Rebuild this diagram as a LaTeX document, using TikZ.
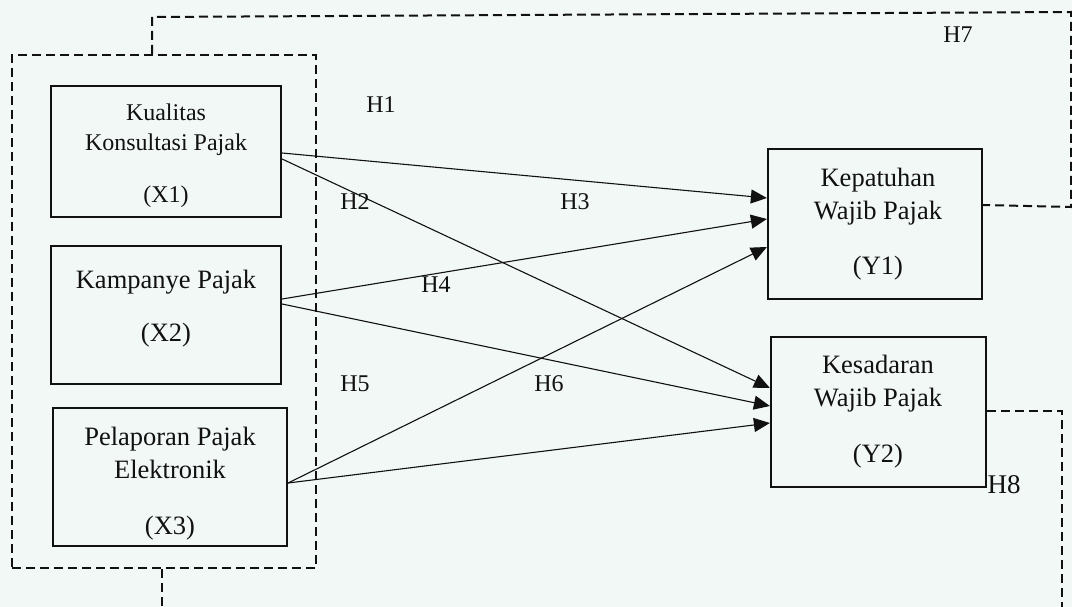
\documentclass[tikz,border=0pt]{standalone}
\usepackage{fontspec}
\setmainfont{Liberation Serif}
\usetikzlibrary{arrows.meta}
\definecolor{bgc}{RGB}{242,248,245}
\definecolor{ink}{RGB}{17,17,17}
\begin{document}
\begin{tikzpicture}[x=1pt,y=-1pt,
  box/.style={draw=ink,line width=2.2pt,minimum width=#1,inner sep=0pt},
  txtA/.style={align=center,text=ink,font=\fontsize{24}{30}\selectfont,inner sep=0pt},
  txtB/.style={align=center,text=ink,font=\fontsize{26.5}{33}\selectfont,inner sep=0pt},
  hlab/.style={text=ink,font=\fontsize{24}{28}\selectfont,inner sep=0pt},
  dline/.style={draw=ink,line width=2pt,dash pattern=on 9pt off 5pt},
  arr/.style={draw=ink,line width=1.1pt,-{Triangle[length=16pt,width=14pt]}}
]
\fill[bgc] (0,0) rectangle (1072,607);
\useasboundingbox (0,0) rectangle (1072,607);

% group box
\node[draw,dline,minimum width=304pt,minimum height=513pt,inner sep=0pt] (group) at (164,311.5) {};

% boxes
\node[box=230pt,minimum height=131pt] (x1) at (166,151.5) {};
\node[box=230pt,minimum height=138pt] (x2) at (166,315) {};
\node[box=234pt,minimum height=138pt] (x3) at (170,477) {};
\node[box=214pt,minimum height=150pt] (y1) at (875,224) {};
\node[box=215pt,minimum height=150pt] (y2) at (878.5,412) {};

% box texts
\node[txtA] (x1t) at (166,156) {Kualitas\\Konsultasi Pajak\\[22pt](X1)};
\node[txtB] (x2t) at (166,309) {Kampanye Pajak\\[20pt](X2)};
\node[txtB] (x3t) at (170,484) {Pelaporan Pajak\\Elektronik\\[23pt](X3)};
\node[txtB] (y1t) at (878,224.5) {Kepatuhan\\Wajib Pajak\\[22pt](Y1)};
\node[txtB] (y2t) at (878,412) {Kesadaran\\Wajib Pajak\\[23pt](Y2)};

% hypothesis labels
\node[hlab] (h1) at (381,105) {H1};
\node[hlab] (h2) at (355,202) {H2};
\node[hlab] (h3) at (575,202) {H3};
\node[hlab] (h4) at (436,285) {H4};
\node[hlab] (h5) at (355,384) {H5};
\node[hlab] (h6) at (549,384) {H6};
\node[hlab] (h7) at (958,35) {H7};
\node[hlab,font=\fontsize{27}{30}\selectfont] (h8) at (1004,485) {H8};

% arrows
\draw[arr] ([yshift=-1.5pt]x1.east) -- ([yshift=26pt]y1.west);
\draw[arr] ([yshift=-7.5pt]x1.east) -- ([yshift=24pt]y2.west);
\draw[arr] ([yshift=16pt]x2.east) -- ([yshift=5pt]y1.west);
\draw[arr] ([yshift=11pt]x2.east) -- ([yshift=6pt]y2.west);
\draw[arr] ([yshift=-6pt]x3.east) -- ([yshift=-23pt]y1.west);
\draw[arr] ([yshift=-6pt]x3.east) -- ([yshift=-11pt]y2.west);

% dashed links
\coordinate (c1) at (152,17);
\coordinate (c2) at (1071,12);
\coordinate (c3) at (1071,207);
\coordinate (c4) at (162,607);
\coordinate (c5) at (1062,411);
\coordinate (c6) at (1062,607);
\draw[dline] ([xshift=-12pt]group.north) -- (c1) -- (c2) -- (c3) -- ([yshift=19pt]y1.east);
\draw[dline] ([xshift=-2pt]group.south) -- (c4);
\draw[dline] ([yshift=1pt]y2.east) -- (c5) -- (c6);
\end{tikzpicture}
\end{document}
